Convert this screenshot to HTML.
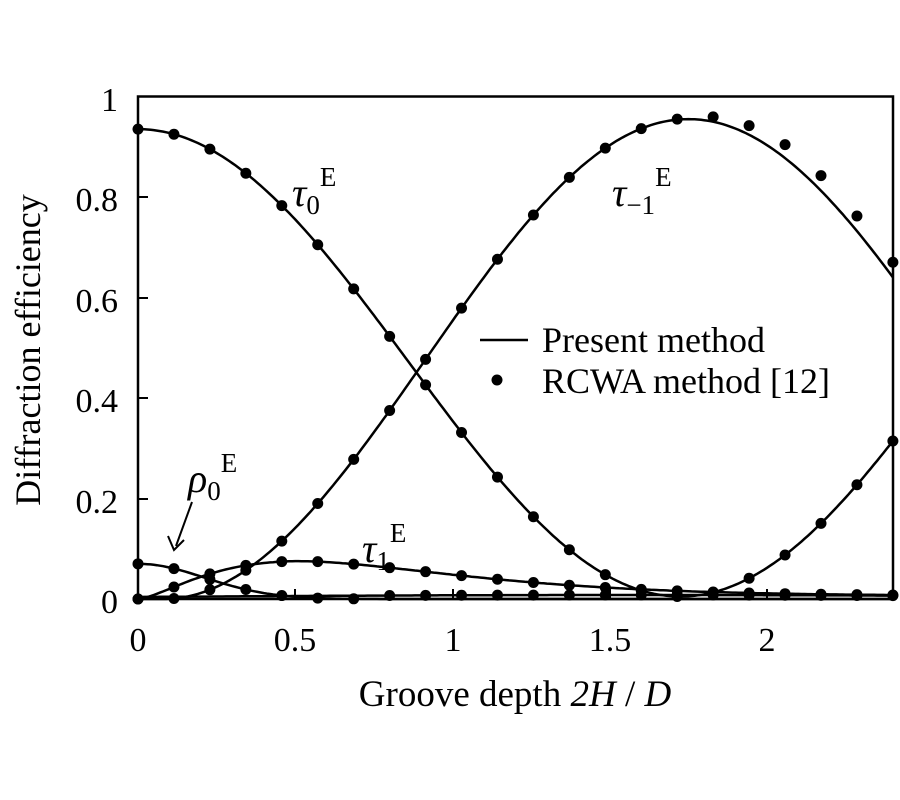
<!DOCTYPE html>
<html><head><meta charset="utf-8"><style>
html,body{margin:0;padding:0;background:#fff;}
svg{display:block;font-family:"Liberation Serif",serif;}
</style></head><body>
<svg id="s" width="900" height="800" viewBox="0 0 900 800" xmlns="http://www.w3.org/2000/svg">
<g id="curves" fill="none" stroke="#000" stroke-width="2.5"></g>
<g id="dots" fill="#000"></g>
<rect x="138" y="96.5" width="755" height="502.5" fill="none" stroke="#000" stroke-width="2.5"/>
<g stroke="#000" stroke-width="2">
<line x1="138" y1="197" x2="148" y2="197"/><line x1="138" y1="298" x2="148" y2="298"/>
<line x1="138" y1="398" x2="148" y2="398"/><line x1="138" y1="499" x2="148" y2="499"/>
<line x1="295" y1="599" x2="295" y2="589"/><line x1="453" y1="599" x2="453" y2="589"/>
<line x1="610" y1="599" x2="610" y2="589"/><line x1="767" y1="599" x2="767" y2="589"/>
</g>
<g font-size="34" text-anchor="end">
<text x="118" y="111">1</text><text x="118" y="211">0.8</text><text x="118" y="312">0.6</text>
<text x="118" y="412">0.4</text><text x="118" y="513">0.2</text><text x="118" y="613">0</text>
</g>
<g font-size="34" text-anchor="middle">
<text x="138" y="651">0</text><text x="295" y="651">0.5</text><text x="453" y="651">1</text>
<text x="610" y="651">1.5</text><text x="767" y="651">2</text>
</g>
<text x="515" y="706" font-size="37" text-anchor="middle">Groove depth  <tspan font-style="italic">2H</tspan> / <tspan font-style="italic">D</tspan></text>
<text transform="translate(40,350) rotate(-90)" font-size="36" text-anchor="middle">Diffraction efficiency</text>
<line x1="480" y1="340" x2="528" y2="340" stroke="#000" stroke-width="2.5"/>
<circle cx="497" cy="380" r="5.5" fill="#000"/>
<text x="542" y="352" font-size="36">Present method</text>
<text x="542" y="393" font-size="36">RCWA method [12]</text>
<g font-style="italic" font-size="40">
<text x="292" y="206">τ<tspan font-size="27" font-style="normal" dy="8">0</tspan><tspan font-size="27" font-style="normal" dy="-28">E</tspan></text>
<text x="612" y="206">τ<tspan font-size="27" font-style="normal" dy="8">−1</tspan><tspan font-size="27" font-style="normal" dy="-28">E</tspan></text>
<text x="188" y="492">ρ<tspan font-size="27" font-style="normal" dy="8">0</tspan><tspan font-size="27" font-style="normal" dy="-28">E</tspan></text>
<text x="362" y="562">τ<tspan font-size="27" font-style="normal" dy="8">1</tspan><tspan font-size="27" font-style="normal" dy="-28">E</tspan></text>
</g>
<line x1="192" y1="502" x2="176" y2="546" stroke="#000" stroke-width="2"/>
<path d="M168 536 L174 550 L184 540" fill="none" stroke="#000" stroke-width="2"/>
</svg>
<script>
var X=function(x){return 138+x*314.5},Y=function(y){return 599-y*502.5};
var f={
t0:function(x){var c=Math.cos(Math.PI*x/3.45);return 0.93*c*c+0.005},
tm:function(x){var t=Math.max(0,x-0.08);var s=Math.sin(Math.PI*t/3.34);return 0.955*s*s},
t1:function(x){return 0.073*Math.pow(x/0.5,1.6)*Math.exp(1.6*(1-x/0.5))*0.95+0.006*Math.min(1,x*2)},
r0:function(x){return 0.07*Math.exp(-x*x/0.09)},
z:function(x){return 0.004+0.004*Math.sin(x)}
};
var cg=document.getElementById('curves'),dg=document.getElementById('dots');
for(var k in f){var d='';for(var i=0;i<=240;i++){var x=i*0.01;d+=(i?'L':'M')+X(x).toFixed(1)+' '+Y(f[k](x)).toFixed(1)}
var p=document.createElementNS('http://www.w3.org/2000/svg','path');p.setAttribute('d',d);cg.appendChild(p);}
function dot(x,y){var c=document.createElementNS('http://www.w3.org/2000/svg','circle');c.setAttribute('cx',X(x));c.setAttribute('cy',Y(y));c.setAttribute('r',5.5);dg.appendChild(c);}
for(var i=0;i<=21;i++){var x=i*0.1143;if(x>2.41)x=2.4;
dot(x,f.t0(x));var off=x>1.7?0.03*(x-1.7)/0.4:0;dot(x,f.tm(x)+Math.min(off,0.03));
dot(x,f.t1(x));if(x<0.7)dot(x,f.r0(x));else dot(x,f.z(x));}
</script>
</body></html>
